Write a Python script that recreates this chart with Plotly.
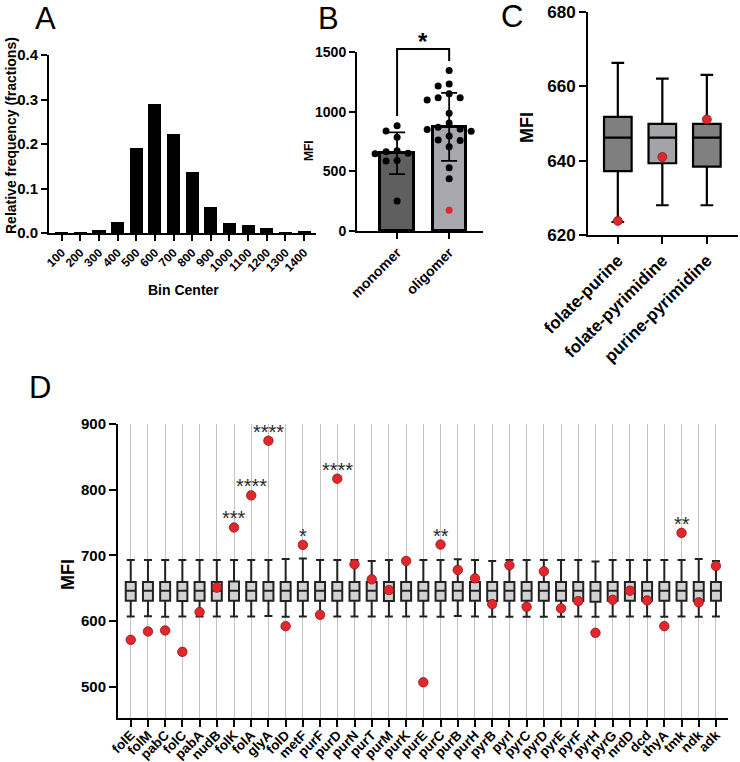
import plotly.graph_objects as go

W, H = 740, 762
FONT = "Liberation Sans, Arial, Helvetica, sans-serif"

# ---------------- Panel A data ----------------
a_bins = [100, 200, 300, 400, 500, 600, 700, 800, 900, 1000, 1100, 1200, 1300, 1400]
a_freq = [0.001, 0.002, 0.0075, 0.0255, 0.191, 0.289, 0.223, 0.137, 0.0585,
          0.022, 0.018, 0.0105, 0.002, 0.004]
a_yticks = [0.0, 0.1, 0.2, 0.3, 0.4]

# ---------------- Panel B data ----------------
b_groups = ["monomer", "oligomer"]
b_mean = [651, 873]
b_sd = [175, 285]
b_monomer = [882, 838, 785, 673, 665, 651, 648, 590, 587, 251]
b_oligomer = [1344, 1232, 1215, 1151, 1117, 1117, 1098, 986, 905, 870, 855, 850,
              835, 796, 763, 758, 707, 531, 438]
b_oligomer_red = [173]
b_yticks = [0, 500, 1000, 1500]

# ---------------- Panel C data ----------------
c_groups = ["folate-purine", "folate-pyrimidine", "purine-pyrimidine"]
c_upper = [666.3, 662.1, 663.1]
c_q3 = [651.8, 649.9, 649.9]
c_median = [646.2, 646.2, 646.2]
c_q1 = [637.2, 639.3, 638.4]
c_lower = [623.5, 628.0, 628.0]
c_observed = [623.8, 641.0, 651.1]
c_yticks = [620, 640, 660, 680]

# ---------------- Panel D data ----------------
d_genes = ["folE", "folM", "pabC", "folC", "pabA", "nudB", "folK", "folA", "glyA",
           "folD", "metF", "purF", "purD", "purN", "purT", "purM", "purK", "purE",
           "purC", "purB", "purH", "pyrB", "pyrI", "pyrC", "pyrD", "pyrE", "pyrF",
           "pyrH", "pyrG", "nrdD", "dcd", "thyA", "tmk", "ndk", "adk"]
d_upper = [692.9, 692.9, 692.9, 692.9, 692.9, 692.9, 692.9, 692.9, 692.9,
           694.4, 694.9, 692.9, 692.9, 692.9, 691.3, 692.9, 692.9, 692.9,
           692.9, 693.9, 692.9, 691.3, 692.9, 692.9, 692.9, 692.9, 692.9,
           690.3, 692.9, 692.9, 692.9, 692.9, 692.9, 694.4, 691.3]
d_q3 = [659.3, 659.3, 659.3, 659.3, 659.3, 659.3, 660.0, 659.3, 659.3,
        659.3, 659.3, 659.3, 659.3, 659.3, 659.3, 659.3, 659.3, 659.3,
        659.3, 659.3, 659.3, 659.3, 659.3, 659.3, 659.3, 659.3, 659.3,
        659.3, 659.3, 659.3, 659.3, 659.3, 659.3, 659.3, 659.3]
d_median = [646.0] * 35
d_q1 = [630.7, 630.7, 630.7, 630.2, 630.7, 630.7, 630.7, 630.7, 630.7,
        630.2, 630.7, 630.7, 630.7, 630.7, 630.7, 630.2, 630.7, 630.7,
        630.7, 631.2, 630.7, 630.2, 630.7, 630.7, 630.7, 630.7, 630.2,
        629.2, 630.7, 630.7, 630.7, 630.7, 630.7, 630.2, 630.7]
d_lower = [606.8, 607.0, 606.3, 606.8, 606.8, 606.8, 606.8, 606.8, 607.3,
           606.3, 606.8, 606.8, 606.8, 606.8, 606.8, 606.8, 606.8, 606.8,
           606.3, 607.3, 606.8, 606.3, 606.3, 606.3, 606.3, 606.3, 606.8,
           606.3, 606.8, 606.8, 606.8, 606.3, 606.8, 606.3, 606.8]
d_observed = [571.1, 583.9, 585.4, 552.8, 613.4, 650.6, 742.3, 791.2, 874.5,
              592.0, 715.8, 609.3, 816.7, 686.2, 663.3, 647.0, 691.3, 506.4,
              716.3, 677.6, 664.8, 625.6, 684.7, 621.5, 675.5, 619.0, 630.2,
              581.8, 632.2, 646.0, 631.2, 592.0, 734.1, 628.2, 683.7]
d_stars = {"folK": "***", "folA": "****", "glyA": "****", "metF": "*",
           "purD": "****", "purC": "**", "tmk": "**"}
d_yticks = [500, 600, 700, 800, 900]


def fx(px):
    return px / W


def fy(py):
    return 1 - py / H


BLACK = "#000000"
RED = "#e3262b"

fig = go.Figure()

# ---------- Panel A ----------
fig.add_trace(go.Bar(x=a_bins, y=a_freq, width=70, marker=dict(color=BLACK, line=dict(width=0)),
                     xaxis="x", yaxis="y", showlegend=False))

# ---------- Panel B ----------
fig.add_trace(go.Bar(x=[0, 1], y=b_mean, width=0.64,
                     marker=dict(color=["#5f5f5f", "#a7a7ad"], line=dict(color=BLACK, width=3)),
                     error_y=dict(type="data", array=b_sd, visible=True, color=BLACK,
                                  thickness=1.8, width=8),
                     xaxis="x2", yaxis="y2", showlegend=False))

B_RANGE = [-0.77, 1.65]
B_PX_PER_CAT = (483 - 357) / (B_RANGE[1] - B_RANGE[0])
B_PX_PER_UNIT = (231 - 52) / 1500.0


def swarm(values, center):
    placed = []
    xs = []
    for v in values:
        for k in [0, -1, 1, -2, 2, -3, 3]:
            off = k * 11.0
            ok = True
            for (o, w) in placed:
                dx = off - o
                dy = (v - w) * B_PX_PER_UNIT
                if (dx * dx + dy * dy) ** 0.5 < 8.5:
                    ok = False
                    break
            if ok:
                placed.append((off, v))
                xs.append(center + off / B_PX_PER_CAT)
                break
    return xs


mono_x = swarm(b_monomer, 0)
olig_x = swarm(b_oligomer + b_oligomer_red, 1)
fig.add_trace(go.Scatter(x=mono_x, y=b_monomer, mode="markers",
                         marker=dict(color=BLACK, size=7), xaxis="x2", yaxis="y2",
                         showlegend=False, cliponaxis=False))
fig.add_trace(go.Scatter(x=olig_x[:len(b_oligomer)], y=b_oligomer, mode="markers",
                         marker=dict(color=BLACK, size=7), xaxis="x2", yaxis="y2",
                         showlegend=False, cliponaxis=False))
fig.add_trace(go.Scatter(x=olig_x[len(b_oligomer):], y=b_oligomer_red, mode="markers",
                         marker=dict(color=RED, size=7), xaxis="x2", yaxis="y2",
                         showlegend=False, cliponaxis=False))

# ---------- Panel C ----------
c_fill = ["#7f7f7f", "#a3a3a8", "#808080"]
for i, g in enumerate(c_groups):
    fig.add_trace(go.Box(x=[i], q1=[c_q1[i]], median=[c_median[i]], q3=[c_q3[i]],
                         lowerfence=[c_lower[i]], upperfence=[c_upper[i]],
                         width=0.62, whiskerwidth=0.46, fillcolor=c_fill[i],
                         line=dict(color=BLACK, width=2.2), boxpoints=False,
                         xaxis="x3", yaxis="y3", showlegend=False, hoverinfo="skip"))
fig.add_trace(go.Scatter(x=list(range(3)), y=c_observed, mode="markers",
                         marker=dict(color=RED, size=9, line=dict(color="#8a1a1a", width=0.8)),
                         xaxis="x3", yaxis="y3", showlegend=False, cliponaxis=False))

# ---------- Panel D ----------
d_x = list(range(len(d_genes)))
fig.add_trace(go.Box(x=d_x, q1=d_q1, median=d_median, q3=d_q3,
                     lowerfence=d_lower, upperfence=d_upper,
                     width=0.58, whiskerwidth=0.8, fillcolor="#d2d2d2",
                     line=dict(color="#222222", width=2), boxpoints=False,
                     xaxis="x4", yaxis="y4", showlegend=False, hoverinfo="skip"))
fig.add_trace(go.Scatter(x=d_x, y=d_observed, mode="markers",
                         marker=dict(color=RED, size=9.5, line=dict(color="#8a1a1a", width=0.8)),
                         xaxis="x4", yaxis="y4", showlegend=False, cliponaxis=False))

annotations = []
for i, g in enumerate(d_genes):
    if g in d_stars:
        annotations.append(dict(x=i, y=d_observed[i], xref="x4", yref="y4",
                                text=d_stars[g], showarrow=False, yanchor="bottom",
                                yshift=-4, font=dict(family=FONT, size=20, color="#2a2a2a")))

# ---------- axes ----------
axis_common = dict(showline=True, linecolor=BLACK, linewidth=2, ticks="outside",
                   tickcolor=BLACK, tickwidth=2, zeroline=False, showgrid=False,
                   mirror=False, automargin=False)


def tf(size):
    return dict(family=FONT, size=size, color=BLACK, weight="bold")


layout = dict(
    width=W, height=H, margin=dict(l=0, r=0, t=0, b=0, pad=0, autoexpand=False),
    paper_bgcolor="white", plot_bgcolor="white", showlegend=False,
    bargap=0,
    xaxis=dict(axis_common, domain=[fx(49), fx(316)], range=[32, 1464], anchor="y",
               tickvals=a_bins, ticktext=[str(b) for b in a_bins], tickangle=-45,
               ticklen=6, tickfont=tf(12)),
    yaxis=dict(axis_common, domain=[fy(233), fy(55)], range=[0, 0.4], anchor="x",
               tickvals=a_yticks, ticktext=["%.1f" % t for t in a_yticks],
               ticklen=6, tickfont=tf(15)),
    xaxis2=dict(axis_common, domain=[fx(357), fx(483)], range=B_RANGE, anchor="y2",
                tickvals=[0, 1], ticktext=b_groups, tickangle=-45, ticklen=6,
                tickfont=tf(14)),
    yaxis2=dict(axis_common, domain=[fy(231), fy(52)], range=[0, 1500], anchor="x2",
                tickvals=b_yticks, ticklen=6, tickfont=tf(14)),
    xaxis3=dict(axis_common, domain=[fx(588), fx(738)], range=[-0.67, 2.7], anchor="y3",
                tickvals=[0, 1, 2], ticktext=c_groups, tickangle=-45, ticklen=7,
                tickfont=tf(17)),
    yaxis3=dict(axis_common, domain=[fy(235), fy(12)], range=[620, 680], anchor="x3",
                tickvals=c_yticks, ticklen=7, tickfont=tf(17)),
    xaxis4=dict(axis_common, domain=[fx(118), fx(728)], range=[-0.74, 34.7], anchor="y4",
                tickvals=d_x, ticktext=d_genes, tickangle=-45, ticklen=7,
                ticklabelstandoff=-5,
                showgrid=True, gridcolor="#c4c4c4", gridwidth=1, tickfont=tf(13.5)),
    yaxis4=dict(axis_common, domain=[fy(718), fy(424)], range=[452, 900], anchor="x4",
                tickvals=d_yticks, ticklen=7, tickfont=tf(15)),
)


# B significance bracket (domain coordinates of panel B)
def bx(v):
    return (v - B_RANGE[0]) / (B_RANGE[1] - B_RANGE[0])


def by(v):
    return v / 1500.0


shapes = [dict(type="path", xref="x2 domain", yref="y2 domain",
               path="M %f,%f L %f,%f L %f,%f L %f,%f" % (bx(0), by(964), bx(0), by(1525),
                                                          bx(1), by(1525), bx(1), by(1425)),
               line=dict(color=BLACK, width=2))]
annotations.append(dict(x=bx(0.5), y=by(1590), xref="x2 domain", yref="y2 domain",
                        text="*", showarrow=False, xanchor="center", yanchor="middle",
                        font=dict(family=FONT, size=24, color=BLACK, weight="bold")))

# panel letters
for letter, px, py in [("A", 45, 19), ("B", 328, 19), ("C", 512, 16), ("D", 40, 387)]:
    annotations.append(dict(x=fx(px), y=fy(py), xref="paper", yref="paper", text=letter,
                            showarrow=False, xanchor="center", yanchor="middle",
                            font=dict(family=FONT, size=31, color=BLACK)))

# axis titles
titles = [
    ("Relative frequency (fractions)", 11, 136, -90, 14),
    ("Bin Center", 183, 290, 0, 14),
    ("MFI", 309, 151, -90, 12),
    ("MFI", 527, 128, -90, 18),
    ("MFI", 68, 575, -90, 18),
]
for text, px, py, ang, sz in titles:
    annotations.append(dict(x=fx(px), y=fy(py), xref="paper", yref="paper", text=text,
                            showarrow=False, xanchor="center", yanchor="middle",
                            textangle=ang, font=tf(sz)))

layout["annotations"] = annotations
layout["shapes"] = shapes
fig.update_layout(**layout)

fig.write_html("out.html")
